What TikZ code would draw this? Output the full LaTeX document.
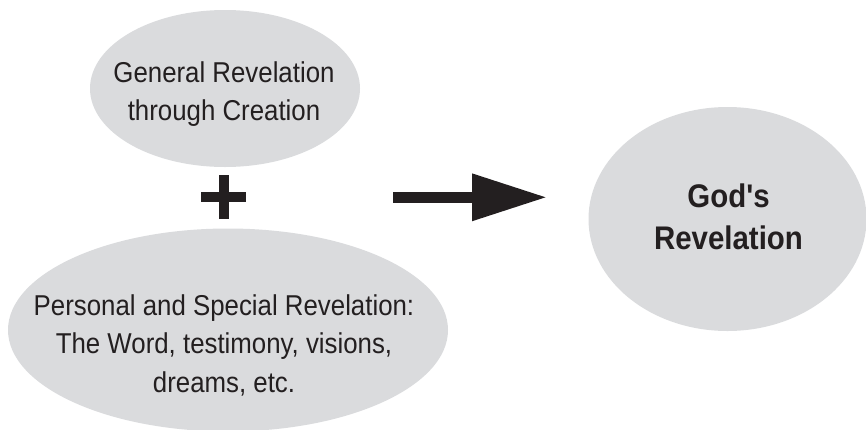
\documentclass[tikz,border=0pt]{standalone}
\usepackage{fontspec}
\setmainfont{Liberation Sans}[FakeStretch=0.9, Ligatures=TeXOff]
\usetikzlibrary{positioning,shapes.geometric,arrows.meta}
\definecolor{bubblegray}{RGB}{218,219,221}
\definecolor{inkblack}{RGB}{35,31,32}
\tikzset{
  every node/.style={text=inkblack, inner sep=0pt},
  bubble/.style={ellipse, fill=bubblegray, draw=none},
  caption/.style={align=center, font=\fontsize{14.35}{19.25}\selectfont},
  bigcaption/.style={align=center, font=\fontsize{16.35}{21}\selectfont\bfseries},
  sign/.style={draw=inkblack, line width=5pt},
  bigarrow/.style={draw=inkblack, line width=5.3pt, -{Triangle[length=37.5pt, width=22.35pt]}}
}

\begin{document}
\begin{tikzpicture}[x=0.5pt, y=-0.5pt]
  \useasboundingbox (0,0) rectangle (866,429);
  % Nodes
  \node (general) [bubble, minimum width=135pt, minimum height=78.5pt] at (225,88.5) {};
  \node (personal) [bubble, minimum width=220pt, minimum height=101.5pt] at (228,330) {};
  \node (god) [bubble, minimum width=139pt, minimum height=112pt] at (727.5,219) {};
  \node (generaltext) [caption] at ([xshift=-0.5pt, yshift=-2.75pt]general.center) {General Revelation\\through Creation};
  \node (personaltext) [caption] at ([xshift=-2pt, yshift=-7.5pt]personal.center) {Personal and Special Revelation:\\The Word, testimony, visions,\\dreams, etc.};
  \node (godtext) [bigcaption] at ([xshift=0.5pt, yshift=1pt]god.center) {God's\\Revelation};

  % Plus sign and arrow
  \coordinate (plus) at (223.5,197);
  \draw[sign] ([xshift=-11.25pt]plus) -- ([xshift=11.25pt]plus);
  \draw[sign] ([yshift=11pt]plus) -- ([yshift=-11pt]plus);
  \coordinate (from) at (393,197.3);
  \coordinate (to) at ([xshift=77pt]from);
  \draw[bigarrow] (from) -- (to);
\end{tikzpicture}
\end{document}
